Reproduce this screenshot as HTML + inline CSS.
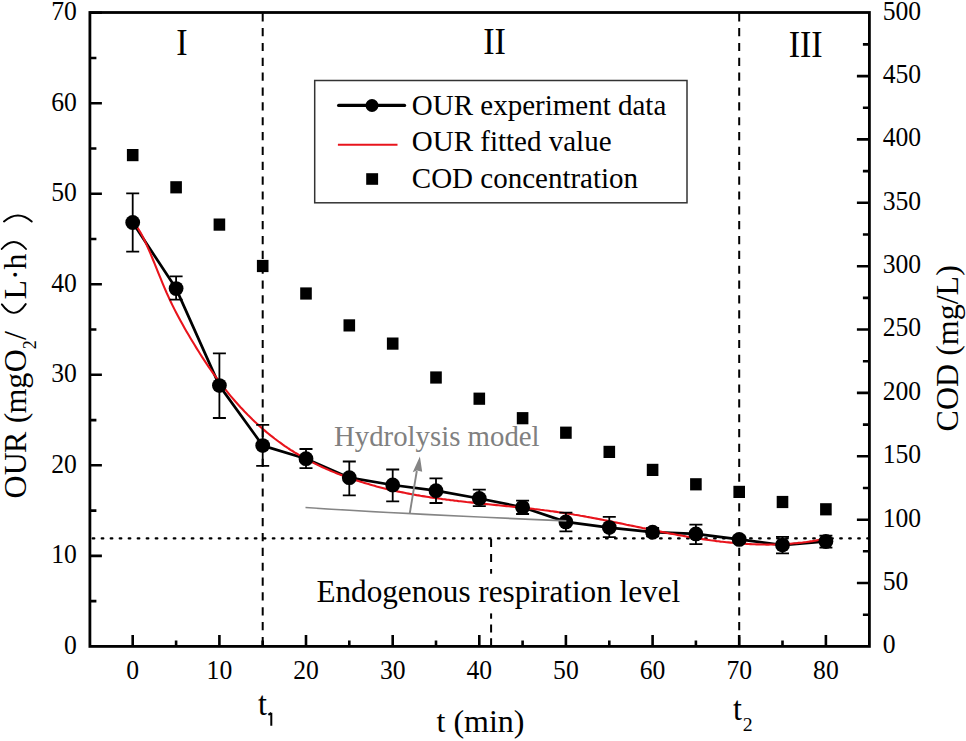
<!DOCTYPE html>
<html><head><meta charset="utf-8"><style>
html,body{margin:0;padding:0;background:#fff;}
svg{display:block;}
text{font-family:"Liberation Serif",serif;fill:#000;}
</style></head><body>
<svg width="966" height="741" viewBox="0 0 966 741">
<rect width="966" height="741" fill="#fff"/>

<path d="M132.7,646.4V634.9 M219.4,646.4V634.9 M306.0,646.4V634.9 M392.7,646.4V634.9 M479.3,646.4V634.9 M565.9,646.4V634.9 M652.6,646.4V634.9 M739.2,646.4V634.9 M825.9,646.4V634.9 M176.1,646.4V640.4 M262.7,646.4V640.4 M349.3,646.4V640.4 M436.0,646.4V640.4 M522.6,646.4V640.4 M609.3,646.4V640.4 M695.9,646.4V640.4 M782.5,646.4V640.4 M89.9,555.9H101.9 M89.9,465.3H101.9 M89.9,374.8H101.9 M89.9,284.3H101.9 M89.9,193.7H101.9 M89.9,103.2H101.9 M89.9,12.7H101.9 M89.9,601.1H96.4 M89.9,510.6H96.4 M89.9,420.1H96.4 M89.9,329.5H96.4 M89.9,239.0H96.4 M89.9,148.5H96.4 M89.9,58.0H96.4 M869.4,583.0H856.9 M869.4,519.7H856.9 M869.4,456.3H856.9 M869.4,392.9H856.9 M869.4,329.5H856.9 M869.4,266.2H856.9 M869.4,202.8H856.9 M869.4,139.4H856.9 M869.4,76.1H856.9 M869.4,614.7H862.9 M869.4,551.3H862.9 M869.4,488.0H862.9 M869.4,424.6H862.9 M869.4,361.2H862.9 M869.4,297.9H862.9 M869.4,234.5H862.9 M869.4,171.1H862.9 M869.4,107.8H862.9 M869.4,44.4H862.9" stroke="#000" stroke-width="2.6" fill="none"/>
<path d="M262.7,13.2V646.4 M739.2,13.2V646.4" stroke="#000" stroke-width="2" stroke-dasharray="8.2 6.65" fill="none"/>
<path d="M92.65,538.4H868.4" stroke="#000" stroke-width="2.1" stroke-dasharray="1.7 7.306" stroke-linecap="round" fill="none"/>
<path d="M491.1,538.9V575" stroke="#000" stroke-width="2" stroke-dasharray="8.1 6.9" fill="none"/>
<path d="M491.1,646.4V613" stroke="#000" stroke-width="2" stroke-dasharray="8.1 5.7" fill="none"/>
<rect x="126.9" y="149.0" width="11.6" height="12.2" fill="#000"/>
<rect x="170.3" y="181.2" width="11.6" height="12.2" fill="#000"/>
<rect x="213.6" y="218.5" width="11.6" height="12.2" fill="#000"/>
<rect x="256.9" y="259.9" width="11.6" height="12.2" fill="#000"/>
<rect x="300.2" y="287.4" width="11.6" height="12.2" fill="#000"/>
<rect x="343.5" y="319.3" width="11.6" height="12.2" fill="#000"/>
<rect x="386.9" y="337.5" width="11.6" height="12.2" fill="#000"/>
<rect x="430.2" y="371.4" width="11.6" height="12.2" fill="#000"/>
<rect x="473.5" y="392.6" width="11.6" height="12.2" fill="#000"/>
<rect x="516.8" y="412.1" width="11.6" height="12.2" fill="#000"/>
<rect x="560.1" y="426.6" width="11.6" height="12.2" fill="#000"/>
<rect x="603.5" y="445.8" width="11.6" height="12.2" fill="#000"/>
<rect x="646.8" y="463.8" width="11.6" height="12.2" fill="#000"/>
<rect x="690.1" y="478.2" width="11.6" height="12.2" fill="#000"/>
<rect x="733.4" y="485.8" width="11.6" height="12.2" fill="#000"/>
<rect x="776.7" y="495.9" width="11.6" height="12.2" fill="#000"/>
<rect x="820.1" y="503.2" width="11.6" height="12.2" fill="#000"/>
<polyline points="132.7,222.5 176.1,288.6 219.4,385.6 262.7,445.6 306.0,458.7 349.3,477.7 392.7,485.0 436.0,490.7 479.3,498.5 522.6,507.3 565.9,521.9 609.3,527.6 652.6,532.2 695.9,533.9 739.2,539.4 782.5,545.1 825.9,541.5" stroke="#000" stroke-width="2.7" fill="none" stroke-linejoin="round"/>
<polyline points="132.7,222.5 134.5,223.5 136.5,226.1 138.5,229.2 140.5,232.6 142.5,236.3 144.5,240.3 146.5,244.6 148.5,249.1 150.5,253.7 152.5,258.5 154.5,263.4 156.5,268.3 158.5,273.3 160.5,278.2 162.5,283.1 164.5,287.8 166.5,292.5 168.5,296.9 170.5,301.2 172.5,305.4 174.5,309.4 176.5,313.3 178.5,317.0 180.5,320.7 182.5,324.3 184.5,327.9 186.5,331.4 188.5,334.8 190.5,338.2 192.5,341.5 194.5,344.8 196.5,348.1 198.5,351.3 200.5,354.5 202.5,357.6 204.5,360.6 206.5,363.6 208.5,366.6 210.5,369.5 212.5,372.3 214.5,375.1 216.5,377.9 218.5,380.6 220.5,383.2 222.5,385.8 224.5,388.4 226.5,390.9 228.5,393.4 230.5,395.8 232.5,398.2 234.5,400.5 236.5,402.8 238.5,405.0 240.5,407.2 242.5,409.3 244.5,411.5 246.5,413.5 248.5,415.6 250.5,417.5 252.5,419.5 254.5,421.4 256.5,423.3 258.5,425.1 260.5,426.9 262.5,428.7 264.5,430.4 266.5,432.1 268.5,433.7 270.5,435.4 272.5,436.9 274.5,438.5 276.5,440.0 278.5,441.5 280.5,442.9 282.5,444.4 284.5,445.8 286.5,447.1 288.5,448.5 290.5,449.8 292.5,451.0 294.5,452.3 296.5,453.5 298.5,454.7 300.5,455.9 302.5,457.0 304.5,458.2 306.5,459.2 308.5,460.3 310.5,461.4 312.5,462.4 314.5,463.4 316.5,464.4 318.5,465.4 320.5,466.3 322.5,467.2 324.5,468.1 326.5,469.0 328.5,469.9 330.5,470.7 332.5,471.6 334.5,472.4 336.5,473.2 338.5,474.0 340.5,474.7 342.5,475.5 344.5,476.2 346.5,477.0 348.5,477.7 350.5,478.4 352.5,479.1 354.5,479.8 356.5,480.4 358.5,481.1 360.5,481.7 362.5,482.3 364.5,482.9 366.5,483.5 368.5,484.1 370.5,484.7 372.5,485.3 374.5,485.8 376.5,486.4 378.5,486.9 380.5,487.4 382.5,487.9 384.5,488.4 386.5,488.9 388.5,489.4 390.5,489.8 392.5,490.3 394.5,490.7 396.5,491.2 398.5,491.6 400.5,492.0 402.5,492.4 404.5,492.8 406.5,493.2 408.5,493.6 410.5,494.0 412.5,494.4 414.5,494.7 416.5,495.1 418.5,495.4 420.5,495.8 422.5,496.1 424.5,496.4 426.5,496.7 428.5,497.0 430.5,497.4 432.5,497.7 434.5,497.9 436.5,498.2 438.5,498.5 440.5,498.8 442.5,499.1 444.5,499.3 446.5,499.6 448.5,499.8 450.5,500.1 452.5,500.3 454.5,500.6 456.5,500.8 458.5,501.1 460.5,501.3 462.5,501.5 464.5,501.7 466.5,502.0 468.5,502.2 470.5,502.4 472.5,502.6 474.5,502.8 476.5,503.0 478.5,503.2 480.5,503.5 482.5,503.7 484.5,503.9 486.5,504.1 488.5,504.3 490.5,504.5 492.5,504.7 494.5,504.9 496.5,505.1 498.5,505.3 500.5,505.5 502.5,505.7 504.5,505.9 506.5,506.1 508.5,506.3 510.5,506.5 512.5,506.7 514.5,506.9 516.5,507.1 518.5,507.3 520.5,507.5 522.5,507.7 524.5,507.9 526.5,508.2 528.5,508.4 530.5,508.6 532.5,508.8 534.5,509.1 536.5,509.3 538.5,509.5 540.5,509.8 542.5,510.0 544.5,510.3 546.5,510.5 548.5,510.8 550.5,511.1 552.5,511.3 554.5,511.6 556.5,511.9 558.5,512.2 560.5,512.5 562.5,512.8 564.5,513.1 566.5,513.4 568.5,513.7 570.5,514.0 572.5,514.3 574.5,514.7 576.5,515.0 578.5,515.3 580.5,515.7 582.5,516.0 584.5,516.4 586.5,516.8 588.5,517.1 590.5,517.5 592.5,517.9 594.5,518.2 596.5,518.6 598.5,519.0 600.5,519.4 602.5,519.8 604.5,520.2 606.5,520.6 608.5,521.0 610.5,521.4 612.5,521.8 614.5,522.2 616.5,522.6 618.5,523.0 620.5,523.4 622.5,523.8 624.5,524.2 626.5,524.7 628.5,525.1 630.5,525.5 632.5,525.9 634.5,526.3 636.5,526.7 638.5,527.1 640.5,527.5 642.5,528.0 644.5,528.4 646.5,528.8 648.5,529.2 650.5,529.6 652.5,530.0 654.5,530.4 656.5,530.8 658.5,531.2 660.5,531.6 662.5,532.0 664.5,532.4 666.5,532.8 668.5,533.2 670.5,533.6 672.5,533.9 674.5,534.3 676.5,534.7 678.5,535.1 680.5,535.4 682.5,535.8 684.5,536.1 686.5,536.5 688.5,536.8 690.5,537.2 692.5,537.5 694.5,537.8 696.5,538.2 698.5,538.5 700.5,538.8 702.5,539.1 704.5,539.4 706.5,539.7 708.5,540.0 710.5,540.3 712.5,540.5 714.5,540.8 716.5,541.1 718.5,541.3 720.5,541.6 722.5,541.8 724.5,542.0 726.5,542.2 728.5,542.4 730.5,542.6 732.5,542.8 734.5,543.0 736.5,543.2 738.5,543.4 740.5,543.5 742.5,543.7 744.5,543.8 746.5,543.9 748.5,544.0 750.5,544.1 752.5,544.2 754.5,544.3 756.5,544.4 758.5,544.4 760.5,544.5 762.5,544.5 764.5,544.5 766.5,544.6 768.5,544.6 770.5,544.5 772.5,544.5 774.5,544.5 776.5,544.4 778.5,544.4 780.5,544.3 782.5,544.2 784.5,544.1 786.5,544.0 788.5,543.8 790.5,543.7 792.5,543.5 794.5,543.3 796.5,543.2 798.5,542.9 800.5,542.7 802.5,542.5 804.5,542.2 806.5,542.0 808.5,541.7 810.5,541.4 812.5,541.1 814.5,540.7 816.5,540.4 818.5,540.0 820.5,539.6 822.5,539.2 824.5,538.8" stroke="#e8141c" stroke-width="2.1" fill="none" stroke-linejoin="round"/>
<path d="M132.7,193.4V251.7 M126.2,193.4H139.2 M126.2,251.7H139.2 M176.1,276.3V299.7 M169.6,276.3H182.6 M169.6,299.7H182.6 M219.4,353.3V418.0 M212.9,353.3H225.9 M212.9,418.0H225.9 M262.7,424.9V465.9 M256.2,424.9H269.2 M256.2,465.9H269.2 M306.0,449.0V468.2 M299.5,449.0H312.5 M299.5,468.2H312.5 M349.3,461.5V495.4 M342.8,461.5H355.8 M342.8,495.4H355.8 M392.7,469.5V501.3 M386.2,469.5H399.2 M386.2,501.3H399.2 M436.0,478.3V503.0 M429.5,478.3H442.5 M429.5,503.0H442.5 M479.3,489.7V506.2 M472.8,489.7H485.8 M472.8,506.2H485.8 M522.6,500.6V514.0 M516.1,500.6H529.1 M516.1,514.0H529.1 M565.9,512.6V531.3 M559.4,512.6H572.4 M559.4,531.3H572.4 M609.3,516.8V537.1 M602.8,516.8H615.8 M602.8,537.1H615.8 M652.6,528.0V536.4 M646.1,528.0H659.1 M646.1,536.4H659.1 M695.9,524.6V544.1 M689.4,524.6H702.4 M689.4,544.1H702.4 M739.2,536.3V542.5 M732.7,536.3H745.7 M732.7,542.5H745.7 M782.5,536.9V553.3 M776.0,536.9H789.0 M776.0,553.3H789.0 M825.9,535.6V547.7 M819.4,535.6H832.4 M819.4,547.7H832.4" stroke="#000" stroke-width="1.8" fill="none"/>
<circle cx="132.7" cy="222.5" r="7.4" fill="#000"/>
<circle cx="176.1" cy="288.6" r="7.4" fill="#000"/>
<circle cx="219.4" cy="385.6" r="7.4" fill="#000"/>
<circle cx="262.7" cy="445.6" r="7.4" fill="#000"/>
<circle cx="306.0" cy="458.7" r="7.4" fill="#000"/>
<circle cx="349.3" cy="477.7" r="7.4" fill="#000"/>
<circle cx="392.7" cy="485.0" r="7.4" fill="#000"/>
<circle cx="436.0" cy="490.7" r="7.4" fill="#000"/>
<circle cx="479.3" cy="498.5" r="7.4" fill="#000"/>
<circle cx="522.6" cy="507.3" r="7.4" fill="#000"/>
<circle cx="565.9" cy="521.9" r="7.4" fill="#000"/>
<circle cx="609.3" cy="527.6" r="7.4" fill="#000"/>
<circle cx="652.6" cy="532.2" r="7.4" fill="#000"/>
<circle cx="695.9" cy="533.9" r="7.4" fill="#000"/>
<circle cx="739.2" cy="539.4" r="7.4" fill="#000"/>
<circle cx="782.5" cy="545.1" r="7.4" fill="#000"/>
<circle cx="825.9" cy="541.5" r="7.4" fill="#000"/>
<path d="M305.5,507.5 Q407.5,514.3 566.3,520.9" stroke="#858585" stroke-width="1.7" fill="none"/>
<path d="M409.7,513.8 L416.8,471" stroke="#858585" stroke-width="1.9" fill="none"/>
<path d="M419.9,456.6 L422.2,471.8 L416.9,470.6 L412.7,472.2 Z" fill="#858585"/>
<text x="334" y="446" font-size="28.8" style="fill:#808080">Hydrolysis model</text>
<rect x="314.7" y="80.5" width="372.3" height="122.3" fill="#fff" stroke="#333" stroke-width="1.5"/>
<path d="M338.7,105.4H404.5" stroke="#000" stroke-width="3.4" stroke-linecap="round"/>
<circle cx="372" cy="105.5" r="6.5" fill="#000"/>
<path d="M337.9,144.8H397.5" stroke="#e8141c" stroke-width="2.1"/>
<rect x="366.2" y="173.2" width="11.9" height="11.6" fill="#000"/>
<text x="411.8" y="114.5" font-size="29">OUR experiment data</text>
<text x="411.8" y="151.3" font-size="29">OUR fitted value</text>
<text x="411.8" y="188" font-size="29">COD concentration</text>
<rect x="314" y="573.7" width="368" height="39.7" fill="#fff"/>
<text x="316.4" y="602.4" font-size="31.2">Endogenous respiration level</text>
<rect x="89.9" y="12.5" width="779.5" height="633.9" fill="none" stroke="#000" stroke-width="2.8"/>
<text transform="translate(76.9,653.9) scale(0.95,1)" font-size="27" text-anchor="end">0</text>
<text transform="translate(76.9,563.4) scale(0.95,1)" font-size="27" text-anchor="end">10</text>
<text transform="translate(76.9,472.8) scale(0.95,1)" font-size="27" text-anchor="end">20</text>
<text transform="translate(76.9,382.3) scale(0.95,1)" font-size="27" text-anchor="end">30</text>
<text transform="translate(76.9,291.8) scale(0.95,1)" font-size="27" text-anchor="end">40</text>
<text transform="translate(76.9,201.2) scale(0.95,1)" font-size="27" text-anchor="end">50</text>
<text transform="translate(76.9,110.7) scale(0.95,1)" font-size="27" text-anchor="end">60</text>
<text transform="translate(76.9,20.2) scale(0.95,1)" font-size="27" text-anchor="end">70</text>
<text transform="translate(882.7,653.3) scale(0.95,1)" font-size="27">0</text>
<text transform="translate(882.7,589.9) scale(0.95,1)" font-size="27">50</text>
<text transform="translate(882.7,526.6) scale(0.95,1)" font-size="27">100</text>
<text transform="translate(882.7,463.2) scale(0.95,1)" font-size="27">150</text>
<text transform="translate(882.7,399.8) scale(0.95,1)" font-size="27">200</text>
<text transform="translate(882.7,336.4) scale(0.95,1)" font-size="27">250</text>
<text transform="translate(882.7,273.1) scale(0.95,1)" font-size="27">300</text>
<text transform="translate(882.7,209.7) scale(0.95,1)" font-size="27">350</text>
<text transform="translate(882.7,146.3) scale(0.95,1)" font-size="27">400</text>
<text transform="translate(882.7,83.0) scale(0.95,1)" font-size="27">450</text>
<text transform="translate(882.7,19.6) scale(0.95,1)" font-size="27">500</text>
<text transform="translate(132.7,679.3) scale(0.95,1)" font-size="27" text-anchor="middle">0</text>
<text transform="translate(219.4,679.3) scale(0.95,1)" font-size="27" text-anchor="middle">10</text>
<text transform="translate(306.0,679.3) scale(0.95,1)" font-size="27" text-anchor="middle">20</text>
<text transform="translate(392.7,679.3) scale(0.95,1)" font-size="27" text-anchor="middle">30</text>
<text transform="translate(479.3,679.3) scale(0.95,1)" font-size="27" text-anchor="middle">40</text>
<text transform="translate(565.9,679.3) scale(0.95,1)" font-size="27" text-anchor="middle">50</text>
<text transform="translate(652.6,679.3) scale(0.95,1)" font-size="27" text-anchor="middle">60</text>
<text transform="translate(739.2,679.3) scale(0.95,1)" font-size="27" text-anchor="middle">70</text>
<text transform="translate(825.9,679.3) scale(0.95,1)" font-size="27" text-anchor="middle">80</text>
<text transform="translate(182,55.1) scale(1,1.13)" font-size="34" text-anchor="middle">I</text>
<text transform="translate(494.6,53.5) scale(1,1.13)" font-size="34" text-anchor="middle">II</text>
<text transform="translate(805.7,56.8) scale(1,1.13)" font-size="34" text-anchor="middle">III</text>
<text transform="translate(258,715.1) scale(1,1.05)" font-size="32">t</text><path d="M271.3,712.8V725.8 M268.4,714.9 L271.2,712.9" stroke="#000" stroke-width="2" fill="none"/>
<text transform="translate(733.1,720.3) scale(1,1.05)" font-size="32">t</text><text x="742.8" y="731.3" font-size="19.8">2</text>
<text x="436.5" y="731.6" font-size="32">t (min)</text>
<text transform="translate(957.6,431.4) rotate(-90)" font-size="32">COD (mg/L)</text>
<g transform="translate(26,498.4) rotate(-90)"><text x="0 23.09 45.4 67 75.2 84.8 109.7 126.1" y="0" font-size="32">OUR (mgO</text><text x="149.1" y="10.4" font-size="18">2</text><text x="158.4" y="0" font-size="32">/</text><text x="198.8" y="0" font-size="32">L&#183;h</text></g>
<path d="M1.9,304.4 Q14,321.5 25.7,304.1 M1.7,249 Q13.8,235 26,249 M4,221.5 Q18,209.5 31.7,221.5" stroke="#000" stroke-width="1.9" fill="none" stroke-linecap="round"/>
</svg></body></html>
